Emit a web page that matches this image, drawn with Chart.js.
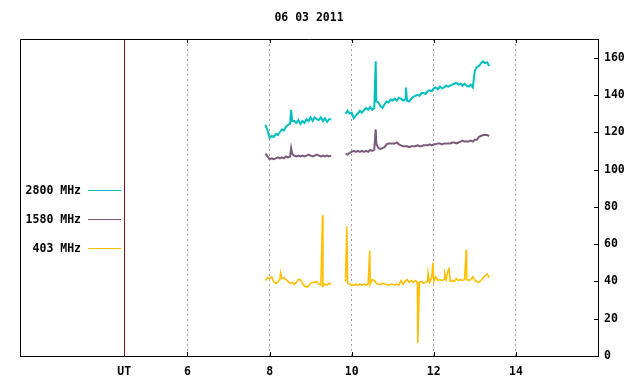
<!DOCTYPE html>
<html><head><meta charset="utf-8">
<script src="https://cdn.jsdelivr.net/npm/chart.js@4/dist/chart.umd.min.js"></script>
<style>html,body{margin:0;padding:0;background:#fff}#wrap{width:640px;height:384px}</style>
</head><body><div id="wrap"><canvas id="c" width="640" height="384"></canvas></div>
<script>
const chartTitle = '06 03 2011';
const seriesLabels = ['2800 MHz', '1580 MHz', '403 MHz'];
const seriesColors = ['#00bfbf', '#7a5a7a', '#ffbf00'];

// sample times (UT hours)
const times = [
  7.90, 7.95, 8.00, 8.05, 8.10, 8.15, 8.20, 8.25, 8.30, 8.35, 8.40, 8.45, 8.50, 8.55, 8.60, 8.65, 8.70,
  8.75, 8.80, 8.85, 8.90, 8.95, 9.00, 9.05, 9.10, 9.15, 9.20, 9.25, 9.30, 9.35, 9.40, 9.45, 9.50,
  9.85, 9.90, 9.95, 10.00, 10.05, 10.10, 10.15, 10.20, 10.25, 10.30, 10.35, 10.40, 10.45, 10.50, 10.55,
  10.60, 10.65, 10.70, 10.75, 10.80, 10.85, 10.90, 10.95, 11.00, 11.05, 11.10, 11.15, 11.20, 11.25, 11.30,
  11.35, 11.40, 11.45, 11.50, 11.55, 11.60, 11.65, 11.70, 11.75, 11.80, 11.85, 11.90, 11.95, 12.00, 12.05,
  12.10, 12.15, 12.20, 12.25, 12.30, 12.35, 12.40, 12.45, 12.50, 12.55, 12.60, 12.65, 12.70, 12.75, 12.80,
  12.85, 12.90, 12.95, 13.00, 13.05, 13.10, 13.15, 13.20, 13.25, 13.30, 13.35
];
const gapTime = 9.70;

const v2800 = [
  124, 121, 117, 118, 117.5, 119, 118.5, 120, 121.5, 121, 123, 124, 124.5, 126, 126, 125, 126.5,
  124.5, 126, 125, 127, 126, 128, 126, 128, 127, 126.5, 128, 126, 127.5, 125.5, 127, 127,
  130, 131.5, 130, 130.5, 127.5, 129, 130, 131.5, 130.5, 132, 133, 132, 133.5, 132, 133,
  136.5, 136, 134, 133, 135, 136.5, 136, 137.5, 137, 138, 137, 138.5, 138, 137, 137.5,
  137, 136.5, 138, 139, 139.5, 140, 139.5, 141, 141, 140.5, 142, 142.5, 142, 143.5, 144,
  143, 144.5, 143.5, 144, 145, 144.5, 145, 145.5, 146, 146.5, 145.5, 146, 145, 146, 145,
  144.5, 145.5, 144, 153, 155, 155.5, 157, 158, 157, 157.5, 155.5
];
const v1580 = [
  108.5, 107, 105.5, 106, 105.5, 106, 106.5, 106, 106.5, 106, 107, 106.5, 107, 108.5, 107.5, 107, 107.5,
  107, 107.5, 107, 107.5, 108, 107.5, 107, 107.5, 108, 107.5, 107, 107.5, 107, 107.5, 107, 107.5,
  108.5, 108, 109, 109.5, 110, 109.5, 110, 109.5, 110, 109.5, 110, 109.5, 110.5, 110, 110.5,
  114, 111.5, 111, 111.5, 112, 113.5, 114, 114, 114, 114, 114.5, 113.5, 113, 112.5, 112.5,
  112.5, 112, 112.5, 112.5, 112.5, 113, 112.5, 112.5, 113, 113, 113, 113.5, 113, 113.5, 113.5,
  114, 114, 113.5, 114, 114, 114, 114, 114.5, 114.5, 114, 114.5, 115, 115.5, 115, 115,
  115, 115.5, 115, 116, 116, 117.5, 118, 118.5, 118.5, 118.5, 118
];
const v403 = [
  40.5, 42, 41.5, 42.5, 40, 39, 39.5, 41, 41.5, 42, 41, 40, 39, 39.5, 38.5, 39.5, 41,
  41, 39, 37.5, 37, 37.5, 39, 39.5, 39.5, 40, 38.5, 38, 37.5, 38.5, 38, 39, 38.5,
  40, 39, 38.5, 38, 38, 38.5, 38, 38.5, 38, 38.5, 38, 38.5, 38.5, 41, 40.5,
  39, 38.5, 38.5, 39, 38.5, 38.5, 38, 38.5, 38.5, 38, 38.5, 38, 40.5, 38.5, 40,
  41, 39.5, 40.5, 39.5, 40.5, 39.5, 39.5, 40, 39, 39.5, 40, 39.5, 42, 40, 42.5,
  40.5, 41, 40.5, 41, 41, 46, 40, 40.5, 40, 41.5, 40.5, 41, 40.5, 41, 41,
  40.5, 41, 42.5, 40.5, 40, 39.5, 40.5, 42, 43, 44, 42
];
// short bursts [time, value]
const spikes2800 = [[8.525, 132], [10.585, 158], [11.32, 144]];
const spikes1580 = [[8.525, 111.5], [10.585, 121.5]];
const spikes403 = [[8.27, 44.5], [9.29, 75.5], [9.88, 69.5], [10.44, 56.5], [11.61, 7], [11.86, 44.5],
  [11.98, 50], [12.27, 44], [12.37, 47.5], [12.79, 57]];

const xTickValues = [6, 8, 10, 12, 14];
const utLabel = 'UT';
const utPos = 4.46;
const yTickValues = [0, 20, 40, 60, 80, 100, 120, 140, 160];

function buildPoints(vals, spikes) {
  const pts = times.map((t, i) => ({x: t, y: vals[i]}));
  spikes.forEach(s => pts.push({x: s[0], y: s[1]}));
  pts.push({x: gapTime, y: null});
  pts.sort((a, b) => a.x - b.x);
  return pts;
}

const FONT = {family: '"DejaVu Sans Mono", monospace', size: 11.5, weight: 'bold'};
Chart.defaults.font.family = FONT.family;
Chart.defaults.font.size = FONT.size;
Chart.defaults.font.weight = FONT.weight;
Chart.defaults.color = '#000';

const framePlugin = {
  id: 'frame',
  afterDraw(chart) {
    const {ctx, chartArea: a, scales} = chart;
    ctx.save();
    ctx.strokeStyle = '#000';
    ctx.lineWidth = 1;
    ctx.beginPath();
    ctx.rect(Math.round(a.left) + 0.5, Math.round(a.top) + 0.5, Math.round(a.right - a.left), Math.round(a.bottom - a.top));
    ctx.stroke();
    // inner ticks
    ctx.beginPath();
    xTickValues.forEach(v => {
      const px = Math.round(scales.x.getPixelForValue(v)) + 0.5;
      ctx.moveTo(px, a.bottom); ctx.lineTo(px, a.bottom - 4);
      ctx.moveTo(px, a.top); ctx.lineTo(px, a.top + 4);
    });
    yTickValues.forEach(v => {
      const py = Math.round(scales.y.getPixelForValue(v)) + 0.5;
      ctx.moveTo(a.right, py); ctx.lineTo(a.right - 4, py);
    });
    ctx.stroke();
    // legend
    ctx.font = 'bold 11.5px "DejaVu Sans Mono", monospace';
    ctx.textAlign = 'right';
    ctx.textBaseline = 'middle';
    chart.data.datasets.forEach((ds, i) => {
      const y = 190 + 29 * i;
      ctx.fillStyle = '#000';
      ctx.fillText(ds.label, 81, y + 1);
      ctx.strokeStyle = ds.borderColor;
      ctx.lineWidth = 1;
      ctx.beginPath();
      ctx.moveTo(88, y + 0.5); ctx.lineTo(121, y + 0.5);
      ctx.stroke();
    });
    ctx.restore();
  }
};

new Chart(document.getElementById('c'), {
  type: 'line',
  data: {
    datasets: [
      {label: seriesLabels[0], data: buildPoints(v2800, spikes2800), borderColor: seriesColors[0], borderWidth: 2},
      {label: seriesLabels[1], data: buildPoints(v1580, spikes1580), borderColor: seriesColors[1], borderWidth: 2},
      {label: seriesLabels[2], data: buildPoints(v403, spikes403), borderColor: seriesColors[2], borderWidth: 1.6}
    ]
  },
  options: {
    responsive: false,
    devicePixelRatio: 1,
    animation: false,
    spanGaps: false,
    elements: {line: {borderWidth: 1, tension: 0}, point: {radius: 0}},
    layout: {padding: {left: 20, right: 0, top: 0, bottom: 0}},
    plugins: {
      legend: {display: false},
      tooltip: {enabled: false},
      title: {display: true, fullSize: false, text: chartTitle, color: '#000', font: FONT, padding: {top: 11, bottom: 14.2}}
    },
    scales: {
      x: {
        type: 'linear', min: 1.92, max: 16,
        afterBuildTicks: s => { s.ticks = [utPos].concat(xTickValues).map(v => ({value: v})); },
        afterFit: s => { s.height = 28; },
        ticks: {
          padding: 9, maxRotation: 0, autoSkip: false, color: '#000',
          callback: v => (v === utPos ? utLabel : String(v))
        },
        grid: {
          drawTicks: false,
          color: c => (c.tick && c.tick.value === utPos ? '#7a1010' : '#a0a0a0'),
          lineWidth: 1
        },
        border: {
          display: true, color: '#000', width: 1,
          dash: c => (c.tick && c.tick.value !== utPos ? [2, 3] : [])
        }
      },
      y: {
        type: 'linear', position: 'right', min: 0, max: 170,
        afterBuildTicks: s => { s.ticks = yTickValues.map(v => ({value: v})); },
        afterFit: s => { s.width = 42; },
        ticks: {padding: 6, color: '#000'},
        grid: {drawOnChartArea: false, drawTicks: false},
        border: {display: true, color: '#000', width: 1}
      }
    }
  },
  plugins: [framePlugin]
});
</script>
</body></html>
